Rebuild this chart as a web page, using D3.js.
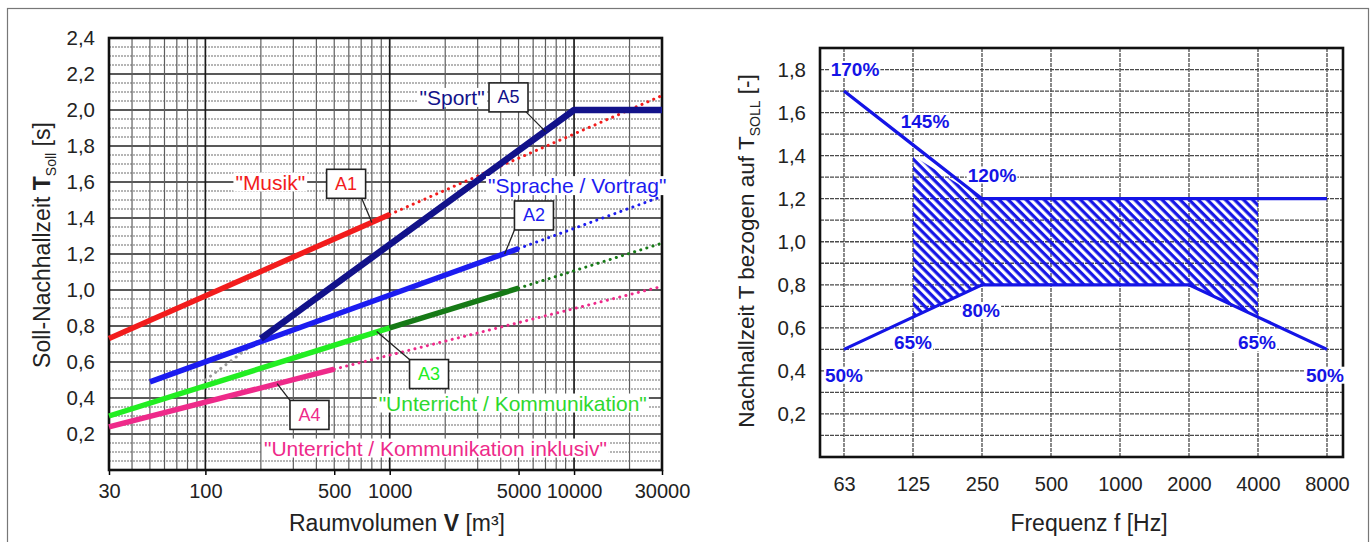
<!DOCTYPE html>
<html>
<head>
<meta charset="utf-8">
<script src="https://cdn.jsdelivr.net/npm/d3@7"></script>
<style>
	html, body { margin: 0; padding: 0; background: #fff; }
	svg { display: block; font-family: "Liberation Sans", Arial, sans-serif; }
</style>
</head>
<body>
<div id="chart"></div>
<script>
// ---- left chart data (Soll-Nachhallzeit) ----
const volTicks = [30, 100, 500, 1000, 5000, 10000, 30000];
const tTicks = [0.2, 0.4, 0.6, 0.8, 1.0, 1.2, 1.4, 1.6, 1.8, 2.0, 2.2, 2.4];

const musikSolid = [[30, 0.73], [1000, 1.42]];
const musikDotted = [[1000, 1.42], [30000, 2.08]];
const spracheSolid = [[50, 0.49], [5000, 1.23]];
const spracheDotted = [[5000, 1.23], [30000, 1.52]];
const unterrichtLight = [[30, 0.30], [1000, 0.79]];
const unterrichtDark = [[1000, 0.79], [5000, 1.01]];
const unterrichtDotted = [[5000, 1.01], [30000, 1.26]];
const inklusivSolid = [[30, 0.24], [500, 0.56]];
const inklusivDotted = [[500, 0.56], [30000, 1.02]];
const sportSolid = [[200, 0.73], [10000, 2.0], [30000, 2.0]];
const sportDotted = [[100, 0.5], [200, 0.73]];

// ---- right chart data (Toleranzbereich) ----
const freqs = ['63', '125', '250', '500', '1000', '2000', '4000', '8000'];
const relTicks = [0.2, 0.4, 0.6, 0.8, 1.0, 1.2, 1.4, 1.6, 1.8];
const upperLimit = [1.7, 1.45, 1.2, 1.2, 1.2, 1.2, 1.2, 1.2];
const lowerLimit = [0.5, 0.65, 0.8, 0.8, 0.8, 0.8, 0.65, 0.5];
const hatchFreqs = ['125', '250', '500', '1000', '2000', '4000'];
const hatchUpper = [1.4, 1.2, 1.2, 1.2, 1.2, 1.2];
const hatchLower = [0.65, 0.8, 0.8, 0.8, 0.8, 0.65];
const pctLabels = [
	{ f: '63', t: 1.8, dx: 11, text: '170%' },
	{ f: '125', t: 1.56, dx: 12, text: '145%' },
	{ f: '250', t: 1.31, dx: 10, text: '120%' },
	{ f: '250', t: 0.68, dx: -1, text: '80%' },
	{ f: '125', t: 0.53, dx: 0, text: '65%' },
	{ f: '63', t: 0.38, dx: 0, text: '50%' },
	{ f: '4000', t: 0.53, dx: -1, text: '65%' },
	{ f: '8000', t: 0.38, dx: -2, text: '50%' }
];

const C = {
	red: '#f21c1c',
	blue: '#1c1cf0',
	navy: '#12128a',
	lime: '#22ee22',
	green: '#167a16',
	pink: '#ee2a8a',
	gray: '#9a9a9a',
	rblue: '#1414e6'
};

const W = 1372, H = 542;
const svg = d3.select('#chart').append('svg')
	.attr('width', W).attr('height', H)
	.attr('viewBox', `0 0 ${W} ${H}`);

// outer frame
svg.append('rect')
	.attr('x', 7.5).attr('y', 8.5)
	.attr('width', 1361).attr('height', 560)
	.attr('fill', 'none').attr('stroke', '#777').attr('stroke-width', 1.2);

// text with white background
function boxedText(g, x, y, str, color, size, weight, pad) {
	const grp = g.append('g');
	const t = grp.append('text')
		.attr('x', x).attr('y', y)
		.attr('text-anchor', 'middle')
		.attr('dominant-baseline', 'central')
		.attr('font-size', size)
		.attr('font-weight', weight || 'normal')
		.attr('fill', color)
		.text(str);
	const bb = t.node().getBBox();
	grp.insert('rect', 'text')
		.attr('x', bb.x - pad).attr('y', bb.y + 2)
		.attr('width', bb.width + pad * 2).attr('height', bb.height - 4)
		.attr('fill', '#fff');
	return grp;
}

// =========== LEFT CHART ===========
const lx = d3.scaleLog().domain([30, 30000]).range([109, 662]);
const ly = d3.scaleLinear().domain([0, 2.4]).range([470, 38]);
const L = svg.append('g');

// horizontal grid
ly.ticks(48).forEach(v => {
	const major = Math.abs(v * 5 - Math.round(v * 5)) < 1e-6;
	L.append('line')
		.attr('x1', lx.range()[0]).attr('x2', lx.range()[1])
		.attr('y1', ly(v)).attr('y2', ly(v))
		.attr('stroke', major ? '#222' : '#6e6e6e')
		.attr('stroke-width', major ? 1.4 : 1.2)
		.attr('stroke-dasharray', major ? null : '2,1');
});
// vertical grid (log)
lx.ticks().forEach(v => {
	const decade = Math.abs(Math.log10(v) - Math.round(Math.log10(v))) < 1e-9;
	L.append('line')
		.attr('x1', lx(v)).attr('x2', lx(v))
		.attr('y1', ly.range()[1]).attr('y2', ly.range()[0])
		.attr('stroke', decade ? '#1a1a1a' : '#5e5e5e')
		.attr('stroke-width', decade ? 1.7 : 1.2);
});

// axes
const lxAxis = d3.axisBottom(lx).tickValues(volTicks).tickFormat(d3.format('d')).tickSize(5).tickSizeOuter(0);
L.append('g')
	.attr('transform', `translate(0,${ly.range()[0]})`)
	.call(lxAxis)
	.call(g => g.select('.domain').remove())
	.call(g => g.selectAll('line').attr('stroke', '#000').attr('stroke-width', 1.5))
	.call(g => g.selectAll('text').attr('font-size', 20).attr('fill', '#222').attr('dy', '1.0em').attr('font-family', null));

const lyAxis = d3.axisLeft(ly).tickValues(tTicks).tickFormat(d => d3.format('.1f')(d).replace('.', ',')).tickSize(0).tickPadding(14);
L.append('g')
	.attr('transform', `translate(${lx.range()[0]},0)`)
	.call(lyAxis)
	.call(g => g.select('.domain').remove())
	.call(g => g.selectAll('text').attr('font-size', 20.5).attr('fill', '#222').attr('font-family', null));

L.append('rect')
	.attr('x', lx.range()[0]).attr('y', ly.range()[1])
	.attr('width', lx.range()[1] - lx.range()[0]).attr('height', ly.range()[0] - ly.range()[1])
	.attr('fill', 'none').attr('stroke', '#111').attr('stroke-width', 2.6);

// series
const lline = d3.line().x(d => lx(d[0])).y(d => ly(d[1]));
function solid(data, color, w) {
	L.append('path').datum(data).attr('d', lline)
		.attr('fill', 'none').attr('stroke', color).attr('stroke-width', w || 5.5)
		.attr('stroke-linejoin', 'round');
}
function dotted(data, color) {
	L.append('path').datum(data).attr('d', lline)
		.attr('fill', 'none').attr('stroke', color).attr('stroke-width', 3)
		.attr('stroke-linecap', 'round').attr('stroke-dasharray', '0.1,6.3');
}
dotted(musikDotted, C.red);
dotted(spracheDotted, C.blue);
dotted(unterrichtDotted, C.green);
dotted(inklusivDotted, C.pink);
dotted(sportDotted, C.gray);
solid(musikSolid, C.red);
solid(unterrichtLight, C.lime);
solid(unterrichtDark, C.green);
solid(inklusivSolid, C.pink);
solid(spracheSolid, C.blue);
solid(sportSolid, C.navy, 6.5);

// annotations
const leftTexts = [
	{ v: 225, t: 1.6, text: '"Musik"', color: C.red },
	{ v: 2180, t: 2.07, text: '"Sport"', color: C.navy },
	{ v: 10400, t: 1.58, text: '"Sprache / Vortrag"', color: C.blue },
	{ v: 4650, t: 0.372, text: '"Unterricht / Kommunikation"', color: '#2ed82e' },
	{ v: 1770, t: 0.122, text: '"Unterricht / Kommunikation inklusiv"', color: C.pink }
];
const leftBoxes = [
	{ v: 580, t: 1.59, text: 'A1', color: C.red, to: [800, 1.375], from: [0.4, 1] },
	{ v: 4410, t: 2.07, text: 'A5', color: C.navy, to: [7000, 1.88], from: [0.45, 1] },
	{ v: 6060, t: 1.414, text: 'A2', color: C.blue, to: [4200, 1.2], from: [-0.5, 1] },
	{ v: 1634, t: 0.533, text: 'A3', color: C.lime, to: [850, 0.77], from: [-0.5, -1] },
	{ v: 367, t: 0.306, text: 'A4', color: C.pink, to: [245, 0.48], from: [-0.5, -1] }
];
leftTexts.forEach(d => boxedText(L, lx(d.v), ly(d.t), d.text, d.color, 21, 'normal', 2));
leftBoxes.forEach(d => {
	const cx = lx(d.v), cy = ly(d.t), bw = 39, bh = 29;
	L.append('line')
		.attr('x1', cx + d.from[0] * bw).attr('y1', cy + d.from[1] * bh / 2)
		.attr('x2', lx(d.to[0])).attr('y2', ly(d.to[1]))
		.attr('stroke', '#222').attr('stroke-width', 1.3);
	L.append('rect')
		.attr('x', cx - bw / 2).attr('y', cy - bh / 2)
		.attr('width', bw).attr('height', bh)
		.attr('fill', '#fff').attr('stroke', '#222').attr('stroke-width', 1.6);
	L.append('text')
		.attr('x', cx).attr('y', cy)
		.attr('text-anchor', 'middle').attr('dominant-baseline', 'central')
		.attr('font-size', 18).attr('fill', d.color).text(d.text);
});

// axis titles
const lxt = L.append('text')
	.attr('x', 397).attr('y', 531)
	.attr('text-anchor', 'middle').attr('font-size', 23).attr('fill', '#222');
lxt.append('tspan').text('Raumvolumen ');
lxt.append('tspan').attr('font-weight', 'bold').text('V');
lxt.append('tspan').text(' [m³]');

const lyt = L.append('text')
	.attr('transform', 'translate(50,245) rotate(-90)')
	.attr('text-anchor', 'middle').attr('font-size', 23).attr('fill', '#222');
lyt.append('tspan').text('Soll-Nachhallzeit ');
lyt.append('tspan').attr('font-weight', 'bold').text('T');
lyt.append('tspan').attr('font-size', 14).attr('dy', 6).text('Soll');
lyt.append('tspan').attr('dy', -6).text(' [s]');

// =========== RIGHT CHART ===========
const rx0 = 820, rx1 = 1343;
const rx = d3.scalePoint().domain(freqs).range([844, 1327]);
const ry = d3.scaleLinear().domain([0, 1.9]).range([457, 48]);
const R = svg.append('g');

ry.ticks(19).forEach(v => {
	R.append('line')
		.attr('x1', rx0).attr('x2', rx1)
		.attr('y1', ry(v)).attr('y2', ry(v))
		.attr('stroke', '#4a4a4a').attr('stroke-width', 1.3)
		.attr('stroke-dasharray', '4,1');
});
freqs.forEach(f => {
	R.append('line')
		.attr('x1', rx(f)).attr('x2', rx(f))
		.attr('y1', ry.range()[1]).attr('y2', ry.range()[0])
		.attr('stroke', '#4a4a4a').attr('stroke-width', 1.3)
		.attr('stroke-dasharray', '4,1');
});

const rxAxis = d3.axisBottom(rx).tickSize(0).tickPadding(0);
R.append('g')
	.attr('transform', `translate(0,${ry.range()[0]})`)
	.call(rxAxis)
	.call(g => g.select('.domain').remove())
	.call(g => g.selectAll('text').attr('font-size', 20).attr('fill', '#222').attr('dy', '1.7em').attr('font-family', null));

const ryAxis = d3.axisLeft(ry).tickValues(relTicks).tickFormat(d => d3.format('.1f')(d).replace('.', ',')).tickSize(0).tickPadding(14);
R.append('g')
	.attr('transform', `translate(${rx0},0)`)
	.call(ryAxis)
	.call(g => g.select('.domain').remove())
	.call(g => g.selectAll('text').attr('font-size', 20.5).attr('fill', '#222').attr('font-family', null));

// hatch pattern
const defs = svg.append('defs');
const pat = defs.append('pattern')
	.attr('id', 'hatch').attr('patternUnits', 'userSpaceOnUse')
	.attr('width', 6.4).attr('height', 6.4)
	.attr('patternTransform', 'rotate(-45)');
pat.append('line')
	.attr('x1', 2).attr('x2', 2).attr('y1', 0).attr('y2', 6.4)
	.attr('stroke', C.rblue).attr('stroke-width', 3.2);

const hatchData = hatchFreqs.map((f, i) => ({ f, hi: hatchUpper[i], lo: hatchLower[i] }));
R.append('path').datum(hatchData)
	.attr('d', d3.area().x(d => rx(d.f)).y0(d => ry(d.lo)).y1(d => ry(d.hi)))
	.attr('fill', 'url(#hatch)');

const rline = d3.line().x((d, i) => rx(freqs[i])).y(d => ry(d));
[upperLimit, lowerLimit].forEach(s => {
	R.append('path').datum(s).attr('d', rline)
		.attr('fill', 'none').attr('stroke', C.rblue).attr('stroke-width', 3.2);
});

R.append('rect')
	.attr('x', rx0).attr('y', ry.range()[1])
	.attr('width', rx1 - rx0).attr('height', ry.range()[0] - ry.range()[1])
	.attr('fill', 'none').attr('stroke', '#111').attr('stroke-width', 2.6);

pctLabels.forEach(d => boxedText(R, rx(d.f) + d.dx, ry(d.t), d.text, C.rblue, 19, 'bold', 1));

R.append('text')
	.attr('x', 1089).attr('y', 531)
	.attr('text-anchor', 'middle').attr('font-size', 23).attr('fill', '#222')
	.text('Frequenz f [Hz]');

const ryt = R.append('text')
	.attr('transform', 'translate(754,251) rotate(-90)')
	.attr('text-anchor', 'middle').attr('font-size', 22.5).attr('fill', '#222');
ryt.append('tspan').text('Nachhallzeit T bezogen auf T');
ryt.append('tspan').attr('font-size', 14).attr('dy', 6).text('SOLL');
ryt.append('tspan').attr('dy', -6).text(' [-]');
</script>
</body>
</html>
